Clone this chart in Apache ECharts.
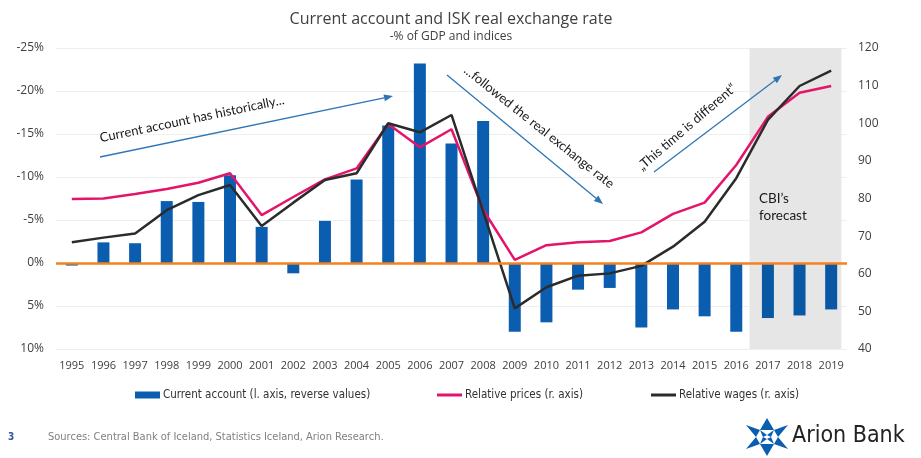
<!DOCTYPE html>
<html>
<head>
<meta charset="utf-8">
<script src="https://cdn.jsdelivr.net/npm/echarts@6/dist/echarts.min.js"></script>
<style>
  html, body { margin: 0; padding: 0; background: #fff; }
  #chart { width: 921px; height: 458px; }
</style>
</head>
<body>
<div id="chart"></div>
<script>
var years = ['1995', '1996', '1997', '1998', '1999', '2000', '2001', '2002', '2003', '2004', '2005', '2006',
	'2007', '2008', '2009', '2010', '2011', '2012', '2013', '2014', '2015', '2016', '2017', '2018', '2019'];
// current account, % of GDP, sign reversed as plotted (deficit shown upwards)
var currentAccount = [0.3, -2.4, -2.3, -7.2, -7.1, -10.2, -4.2, 1.2, -4.9, -9.7, -16.0, -23.2,
	-13.9, -16.5, 8.0, 6.9, 3.1, 2.9, 7.5, 5.4, 6.2, 8.0, 6.4, 6.1, 5.4];
var relativePrices = [79.9, 80.0, 81.2, 82.5, 84.2, 86.7, 75.6, 80.4, 85.1, 88.0, 99.8, 93.6,
	98.4, 77.0, 63.7, 67.6, 68.4, 68.7, 71.0, 75.9, 78.9, 88.9, 101.7, 108.1, 109.9];
var relativeWages = [68.4, 69.6, 70.7, 76.9, 80.9, 83.6, 72.7, 78.9, 84.9, 86.7, 100.0, 97.6,
	102.2, 76.6, 50.8, 56.4, 59.5, 60.1, 62.1, 67.2, 73.8, 85.4, 100.9, 109.9, 114.0];
var firstForecastYear = '2017';
var forecastSpan = [2016.42, 2019.32];
var leftTicks = { min: -25, max: 10, interval: 5 };
var rightTicks = { min: 40, max: 120, interval: 10 };

var names = ['Current account (l. axis, reverse values)', 'Relative prices (r. axis)', 'Relative wages (r. axis)'];
var blue = '#0B5EAF';
var arrowBlue = '#2E75B6';
var font = "'Open Sans', sans-serif";
var narrow = "'Liberation Sans Narrow', 'DejaVu Sans Condensed', sans-serif";

function arrow(x1, y1, x2, y2) {
	var a = Math.atan2(y2 - y1, x2 - x1);
	var L = 9, W = 3.5;
	var bx = x2 - L * Math.cos(a), by = y2 - L * Math.sin(a);
	return [{
		type: 'line', z: 100,
		shape: { x1: x1, y1: y1, x2: bx, y2: by },
		style: { stroke: arrowBlue, lineWidth: 1.3 },
		silent: true
	}, {
		type: 'polygon', z: 100,
		shape: { points: [[x2, y2], [bx + W * Math.sin(a), by - W * Math.cos(a)], [bx - W * Math.sin(a), by + W * Math.cos(a)]] },
		style: { fill: arrowBlue },
		silent: true
	}];
}

function note(text, cx, cy, deg) {
	return {
		type: 'text', z: 100,
		x: cx, y: cy,
		rotation: deg * Math.PI / 180,
		silent: true,
		style: { text: text, x: 0, y: 0, align: 'center', verticalAlign: 'middle',
			fontSize: 13, fontFamily: "Lato, sans-serif", fill: '#1a1a1a' }
	};
}

var graphics = [];
graphics = graphics.concat(arrow(100, 157, 393, 96));
graphics = graphics.concat(arrow(447, 75, 603, 204));
graphics = graphics.concat(arrow(654, 172, 782, 75));
graphics.push(note('Current account has historically...', 192, 119, 11.8));
graphics.push(note('...followed the real exchange rate', 539, 127, -38.5));
graphics.push(note('\u201EThis time is different\u201C', 687, 127, 40.6));
graphics.push({
	type: 'text', left: 759, top: 190, silent: true, z: 100,
	style: { text: 'CBI\u2019s\nforecast', fontSize: 13.5, lineHeight: 17, fontFamily: "Lato, sans-serif", fill: '#1a1a1a' }
});
// footer
graphics.push({
	type: 'text', left: 8, top: 432, silent: true,
	style: { text: '3', fontSize: 10, fontWeight: 'bold', fontFamily: narrow, fill: '#2F5597' }
});
graphics.push({
	type: 'text', left: 48, top: 432, silent: true,
	style: { text: 'Sources: Central Bank of Iceland, Statistics Iceland, Arion Research.', fontSize: 11, fontFamily: narrow, fill: '#808080' }
});
// logo
var lx = 767, ly = 437;
var star = [
	[[0, -19], [7, -7], [-7, -7]],
	[[0, 19], [7, 7], [-7, 7]],
	[[-21, -12], [-7, -7], [-11, 0]],
	[[21, -12], [7, -7], [11, 0]],
	[[-21, 12], [-7, 7], [-11, 0]],
	[[21, 12], [7, 7], [11, 0]],
	[[-7, -7], [0, -2], [-4, 0]],
	[[7, -7], [0, -2], [4, 0]],
	[[-7, 7], [0, 2], [-4, 0]],
	[[7, 7], [0, 2], [4, 0]]
];
star.forEach(function(tri) {
	graphics.push({
		type: 'polygon', silent: true,
		shape: { points: tri.map(function(p) { return [lx + p[0], ly + p[1]]; }) },
		style: { fill: '#0B5EAF' }
	});
});
graphics.push({
	type: 'text', left: 792, top: 425, silent: true,
	style: { text: 'Arion Bank', fontSize: 23, fontFamily: narrow, fill: '#222' }
});

function legendFor(name, left, h) {
	return {
		data: [name], left: left, top: 389, itemWidth: 25, itemHeight: h, icon: 'rect',
		itemGap: 0, padding: 0, selectedMode: false,
		textStyle: { fontSize: 11.5, fontFamily: narrow, color: '#333', padding: [0, 0, 0, -2] }
	};
}

var chart = echarts.init(document.getElementById('chart'));
var option = {
	animation: false,
	title: {
		text: 'Current account and ISK real exchange rate',
		subtext: '-% of GDP and indices',
		left: 446, top: 6, textAlign: 'center', itemGap: 4,
		textStyle: { fontSize: 16, fontWeight: 'normal', color: '#404040', fontFamily: font },
		subtextStyle: { fontSize: 12, color: '#404040', fontFamily: font }
	},
	legend: [legendFor(names[0], 135, 7), legendFor(names[1], 437, 3), legendFor(names[2], 651, 3)],
	grid: { left: 56, right: 74, top: 48, bottom: 109 },
	xAxis: [{
		type: 'category', data: years,
		axisLine: { show: false }, axisTick: { show: false },
		axisLabel: { interval: 0, fontSize: 11, color: '#404040', margin: 11, fontFamily: font }
	}, {
		type: 'value', min: 1994.5, max: 2019.5, show: false
	}],
	yAxis: [{
		type: 'value', inverse: true,
		min: leftTicks.min, max: leftTicks.max, interval: leftTicks.interval,
		axisLine: { show: false }, axisTick: { show: false },
		splitLine: { lineStyle: { color: '#efefef', width: 1 } },
		axisLabel: { formatter: '{value}%', fontSize: 12, color: '#404040', margin: 12, fontFamily: font }
	}, {
		type: 'value', position: 'right',
		min: rightTicks.min, max: rightTicks.max, interval: rightTicks.interval,
		axisLine: { show: false }, axisTick: { show: false }, splitLine: { show: false },
		axisLabel: { fontSize: 12, color: '#404040', margin: 11, fontFamily: font }
	}],
	series: [{
		name: 'forecast',
		type: 'line', xAxisIndex: 1, yAxisIndex: 0, data: [], z: 0, silent: true,
		markArea: {
			silent: true,
			itemStyle: { color: '#e6e6e6' },
			data: [[{ xAxis: forecastSpan[0] }, { xAxis: forecastSpan[1] }]]
		}
	}, {
		name: names[0],
		type: 'bar', yAxisIndex: 0, barWidth: 12,
		itemStyle: { color: blue },
		data: currentAccount.map(function(v, i) {
			return years[i] >= firstForecastYear ? { value: v, itemStyle: { color: '#0A58A3' } } : v;
		}),
		markLine: {
			silent: true, symbol: 'none', label: { show: false },
			lineStyle: { color: '#F5821F', width: 2.5, type: 'solid' },
			data: [{ yAxis: 0 }]
		}
	}, {
		name: names[1],
		type: 'line', yAxisIndex: 1, data: relativePrices,
		symbol: 'none', color: '#E3146A',
		lineStyle: { width: 2.5, color: '#E3146A' }
	}, {
		name: names[2],
		type: 'line', yAxisIndex: 1, data: relativeWages,
		symbol: 'none', color: '#2B2B2B',
		lineStyle: { width: 2.5, color: '#2B2B2B' }
	}],
	graphic: graphics
};
chart.setOption(option);
</script>
</body>
</html>
